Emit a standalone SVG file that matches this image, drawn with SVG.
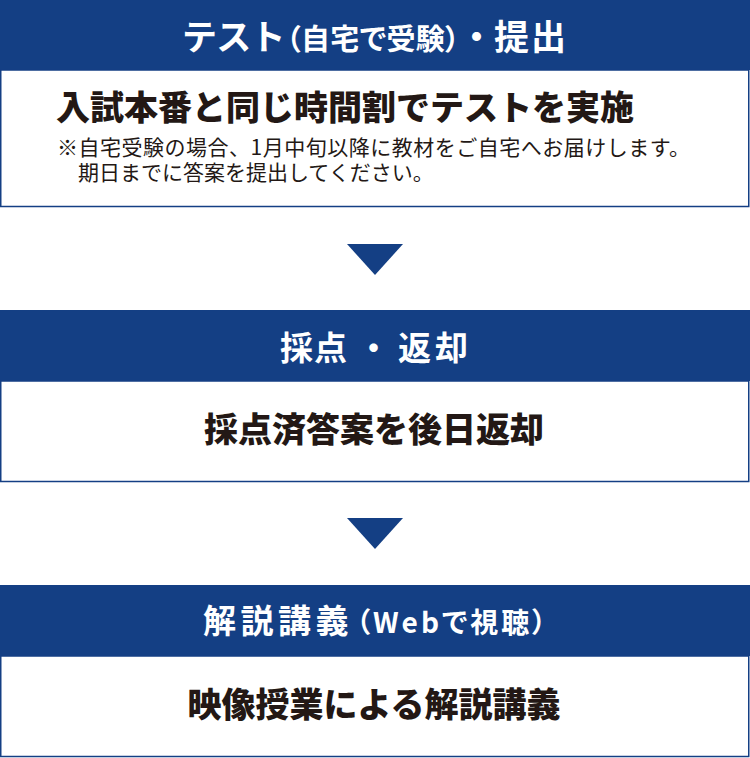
<svg xmlns="http://www.w3.org/2000/svg" width="750" height="758" viewBox="0 0 750 758">
<style>
.hd{fill:#143f84}
.bx{fill:#ffffff;stroke:#143f84;stroke-width:1.5}
.ar{fill:#143f84}
text{font-family:"Noto Sans CJK JP","Noto Sans",sans-serif}
.ht{fill:#ffffff;font-weight:700}
.pa{font-feature-settings:"palt" 1}
.mt{fill:#231815;font-weight:900;font-size:34px}
.nt{fill:#231815;font-weight:400;font-size:21px}
</style>
<rect width="750" height="758" fill="#ffffff"/>
<g id="step1">
<rect class="hd" x="0" y="0" width="750" height="70"/>
<rect class="bx" x="0.75" y="70" width="748" height="136.5"/>
<text class="ht" y="49.5"><tspan x="182" font-size="35" letter-spacing="-0.7">テスト</tspan><tspan class="pa" x="286" font-size="29" letter-spacing="0.4">（自宅で受験）</tspan><tspan x="459" font-size="35">・</tspan><tspan x="494" font-size="35" letter-spacing="2">提出</tspan></text>
<text class="mt" x="56" y="120">入試本番と同じ時間割でテストを実施</text>
<text class="nt"><tspan x="57" y="155" letter-spacing="0.5">※自宅受験の場合、1月中旬以降に教材をご自宅へお届けします。</tspan><tspan x="78" y="180">期日までに答案を提出してください。</tspan></text>
</g>
<g id="step2">
<rect class="hd" x="0" y="310" width="750" height="71"/>
<rect class="bx" x="0.75" y="381" width="748" height="100.5"/>
<text class="ht" y="360" font-size="33"><tspan x="280" letter-spacing="1">採点</tspan><tspan x="357">・</tspan><tspan x="398" letter-spacing="4">返却</tspan></text>
<text class="mt" x="374" y="441.5" text-anchor="middle">採点済答案を後日返却</text>
</g>
<g id="step3">
<rect class="hd" x="0" y="585" width="750" height="71"/>
<rect class="bx" x="0.75" y="656" width="748" height="100.5"/>
<text class="ht" y="633"><tspan x="203" font-size="33" letter-spacing="4.5">解説講義</tspan><tspan class="pa" x="356" font-size="28" letter-spacing="3">（Webで視聴）</tspan></text>
<text class="mt" x="374" y="717" text-anchor="middle" font-size="34.5">映像授業による解説講義</text>
</g>
<g id="connectors">
<polygon class="ar" points="347,244 403,244 375,275"/>
<polygon class="ar" points="347,518 403,518 375,549"/>
</g>
</svg>
